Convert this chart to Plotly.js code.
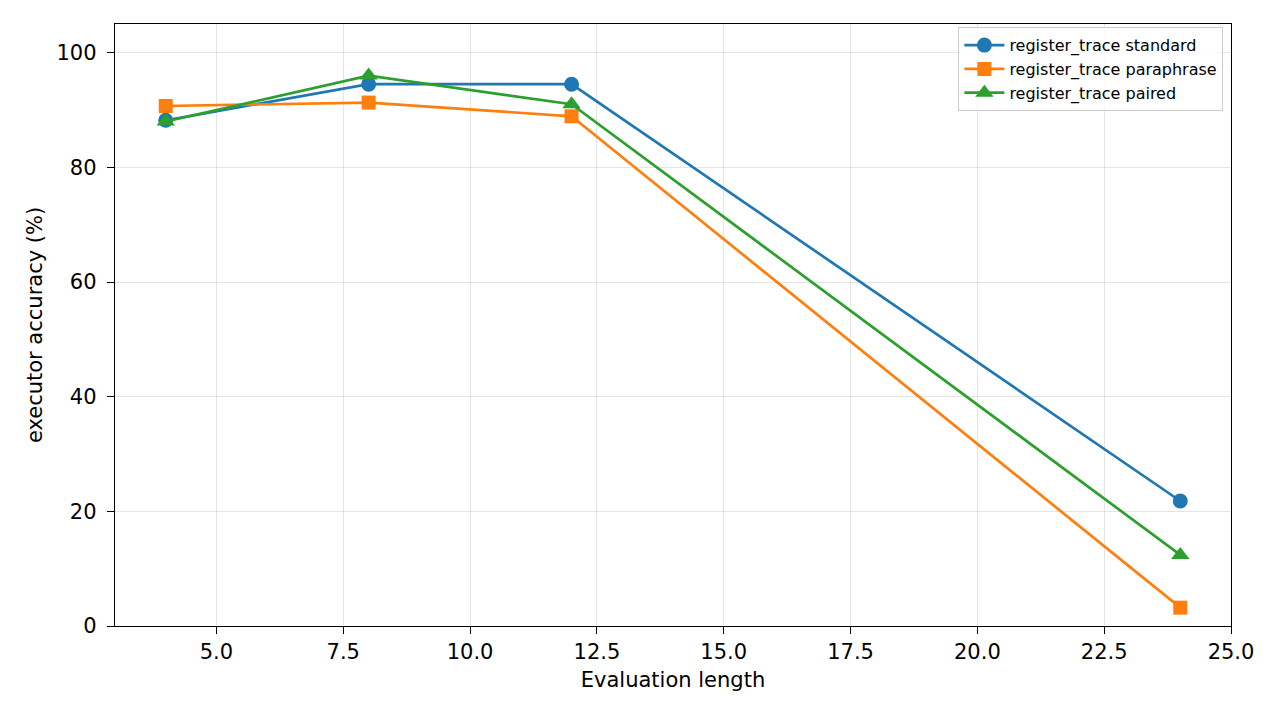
<!DOCTYPE html>
<html>
<head>
<meta charset="utf-8">
<script src="https://cdn.plot.ly/plotly-3.0.1.min.js"></script>
<style>
  html, body { margin: 0; padding: 0; background: #fff; }
  #graph { width: 1280px; height: 720px; }
</style>
</head>
<body>
<div id="graph"></div>
<script>
const lengths = [4, 8, 12, 24];
const standard = [88.2, 94.5, 94.5, 21.8];
const paraphrase = [90.7, 91.3, 88.9, 3.2];
const paired = [88.0, 96.0, 91.0, 12.4];

const seriesNames = [
  "register_trace standard",
  "register_trace paraphrase",
  "register_trace paired"
];

function makeTrace(y, name, color, symbol, size) {
  return {
    x: lengths,
    y: y,
    name: name,
    type: "scatter",
    mode: "lines+markers",
    line: { color: color, width: 2.7 },
    marker: { color: color, symbol: symbol, size: size }
  };
}

const data = [
  makeTrace(standard, seriesNames[0], "#1f77b4", "circle", 15),
  makeTrace(paraphrase, seriesNames[1], "#ff7f0e", "square", 14),
  makeTrace(paired, seriesNames[2], "#2ca02c", "triangle-up", 16)
];

const axisCommon = {
  showline: true,
  mirror: true,
  linecolor: "#000",
  linewidth: 1.4,
  ticks: "outside",
  ticklen: 7,
  tickwidth: 1.4,
  tickcolor: "#000",
  showgrid: true,
  gridcolor: "rgba(0,0,0,0.1)",
  gridwidth: 1.2,
  zeroline: false,
  tickfont: { size: 21, color: "#000" }
};

Plotly.newPlot("graph", data, {
  width: 1280,
  height: 720,
  font: { family: "DejaVu Sans, sans-serif", color: "#000" },
  paper_bgcolor: "#fff",
  plot_bgcolor: "#fff",
  margin: { l: 115, r: 49, t: 24, b: 94 },
  showlegend: true,
  legend: {
    x: 0.993,
    y: 0.995,
    xanchor: "right",
    yanchor: "top",
    bgcolor: "rgba(255,255,255,0.8)",
    bordercolor: "#ccc",
    borderwidth: 1.2,
    font: { size: 16, color: "#000" },
    itemwidth: 40,
    tracegroupgap: 0
  },
  xaxis: Object.assign({}, axisCommon, {
    range: [3, 25],
    tickvals: [5, 7.5, 10, 12.5, 15, 17.5, 20, 22.5, 25],
    tickformat: ".1f",
    title: { text: "Evaluation length", font: { size: 21 }, standoff: 8 }
  }),
  yaxis: Object.assign({}, axisCommon, {
    range: [0, 105],
    tickvals: [0, 20, 40, 60, 80, 100],
    ticklabelstandoff: 6,
    title: { text: "executor accuracy (%)", font: { size: 21 }, standoff: 8 }
  })
}, { displayModeBar: false });
</script>
</body>
</html>
